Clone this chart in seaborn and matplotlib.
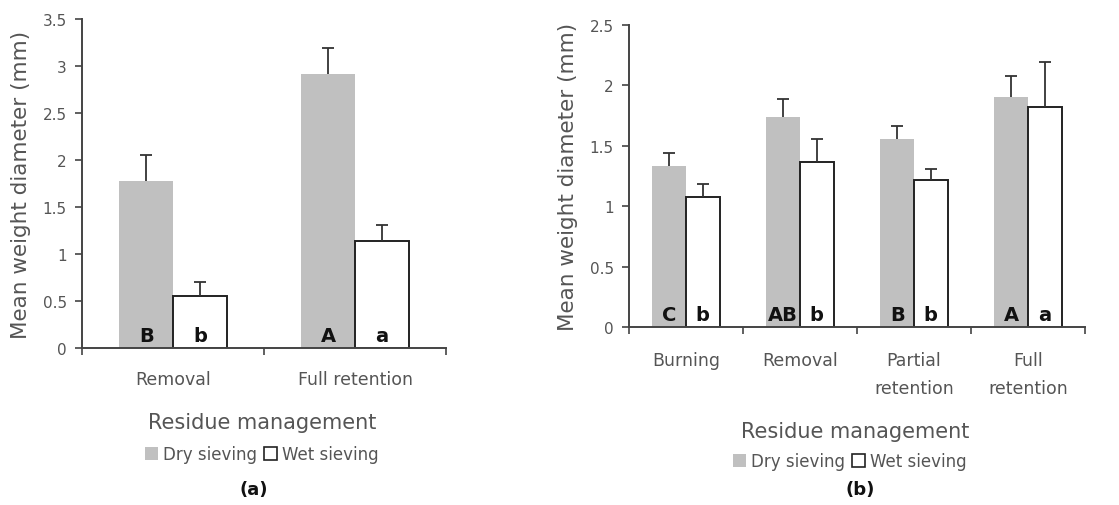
import numpy as np
import pandas as pd
import matplotlib
matplotlib.use("Agg")
import matplotlib.pyplot as plt
from matplotlib.patches import Patch
from matplotlib.ticker import FixedLocator
import seaborn as sns

# ---------------- data ----------------
methods = ["Dry sieving", "Wet sieving"]

cats_a = ["Removal", "Full retention"]
dry_a = [1.78, 2.91]
dry_err_a = [0.27, 0.28]
wet_a = [0.55, 1.14]
wet_err_a = [0.15, 0.17]
dry_letters_a = ["B", "A"]
wet_letters_a = ["b", "a"]

cats_b = ["Burning", "Removal", "Partial\nretention", "Full\nretention"]
dry_b = [1.33, 1.74, 1.56, 1.90]
dry_err_b = [0.11, 0.15, 0.10, 0.18]
wet_b = [1.08, 1.37, 1.22, 1.82]
wet_err_b = [0.10, 0.19, 0.09, 0.37]
dry_letters_b = ["C", "AB", "B", "A"]
wet_letters_b = ["b", "b", "b", "a"]

yticks_a = [0, 0.5, 1, 1.5, 2, 2.5, 3, 3.5]
yticks_b = [0, 0.5, 1, 1.5, 2, 2.5]

# ---------------- style ----------------
sns.set_theme(style="white")
plt.rcParams["font.family"] = ["DejaVu Sans"]
TXT = "#555555"
AX = "#444444"
GRAY = "#c0c0c0"

fig = plt.figure(figsize=(11.19, 5.06), dpi=100)
ax_a = fig.add_axes([0.0733, 0.3103, 0.3253, 0.6502])
ax_b = fig.add_axes([0.5621, 0.3518, 0.4075, 0.5968])


def panel(ax, cats, dry, dry_err, wet, wet_err, dl, wl, yticks, ymax,
          letter_y, xpad):
    df = pd.DataFrame({
        "Residue": cats + cats,
        "Method": [methods[0]] * len(cats) + [methods[1]] * len(cats),
        "MWD": dry + wet,
    })
    sns.barplot(data=df, x="Residue", y="MWD", hue="Method", order=cats,
                hue_order=methods, palette=[GRAY, "white"], width=0.59,
                errorbar=None, legend=False, saturation=1, ax=ax)
    bars = [p for p in ax.patches]
    n = len(cats)
    errs = list(dry_err) + list(wet_err)
    letters = list(dl) + list(wl)
    for i, p in enumerate(bars):
        if i < n:
            p.set_edgecolor("none")
        else:
            p.set_edgecolor("#222222")
            p.set_linewidth(1.4)
        xc = p.get_x() + p.get_width() / 2
        h = p.get_height()
        eb = ax.errorbar([xc], [h], yerr=[[0], [errs[i]]], fmt="none",
                         ecolor="#333333", elinewidth=1.3, capsize=4.5,
                         capthick=1.3, zorder=1)
        caps = eb[1]
        if len(caps) > 1:
            caps[0].set_visible(False)
        ax.text(xc, letter_y, letters[i], ha="center", va="center",
                fontsize=14, fontweight="bold", color="#111111", zorder=5)
    ax.set_ylim(0, ymax)
    ax.set_xlim(-0.5, n - 0.5)
    ax.set_yticks(yticks)
    ax.set_yticklabels([f"{t:g}" for t in yticks], fontsize=11, color=TXT)
    ax.set_xticklabels(cats, fontsize=12.5, color=TXT, linespacing=1.75)
    ax.xaxis.set_minor_locator(FixedLocator(np.arange(-0.5, n, 1.0)))
    ax.tick_params(axis="x", which="major", length=0, pad=xpad)
    ax.tick_params(axis="x", which="minor", length=5, width=1.2,
                   direction="out", color=AX, bottom=True)
    ax.tick_params(axis="y", length=5, width=1.2, direction="out",
                   color=AX, left=True, pad=6)
    for s in ["top", "right"]:
        ax.spines[s].set_visible(False)
    for s in ["left", "bottom"]:
        ax.spines[s].set_color(AX)
        ax.spines[s].set_linewidth(1.4)
    ax.set_ylabel("Mean weight diameter (mm)", fontsize=15.5, color=TXT,
                  labelpad=8)
    ax.set_xlabel("")
    ax.grid(False)


panel(ax_a, cats_a, dry_a, dry_err_a, wet_a, wet_err_a, dry_letters_a,
      wet_letters_a, yticks_a, 3.5, 0.13, 16)
panel(ax_b, cats_b, dry_b, dry_err_b, wet_b, wet_err_b, dry_letters_b,
      wet_letters_b, yticks_b, 2.5, 0.10, 17)

# x labels, legends and panel tags
fig.text(262 / 1119, 1 - 423 / 506, "Residue management", ha="center",
         va="center", fontsize=15, color=TXT)
fig.text(855 / 1119, 1 - 432 / 506, "Residue management", ha="center",
         va="center", fontsize=15, color=TXT)

handles = [Patch(facecolor=GRAY, edgecolor="none"),
           Patch(facecolor="white", edgecolor="#222222", linewidth=1.2)]
for cx, cy in [(262, 455), (850, 462)]:
    fig.legend(handles, methods, loc="center", ncol=2,
               bbox_to_anchor=(cx / 1119, 1 - cy / 506), frameon=False,
               fontsize=12, handlelength=0.8, handleheight=0.8,
               handletextpad=0.3, columnspacing=0.4, labelcolor=TXT)

fig.text(254 / 1119, 1 - 490 / 506, "(a)", ha="center", va="center",
         fontsize=13, fontweight="bold", color="#111111")
fig.text(860 / 1119, 1 - 490 / 506, "(b)", ha="center", va="center",
         fontsize=13, fontweight="bold", color="#111111")

fig.savefig("out.png", dpi=100)
